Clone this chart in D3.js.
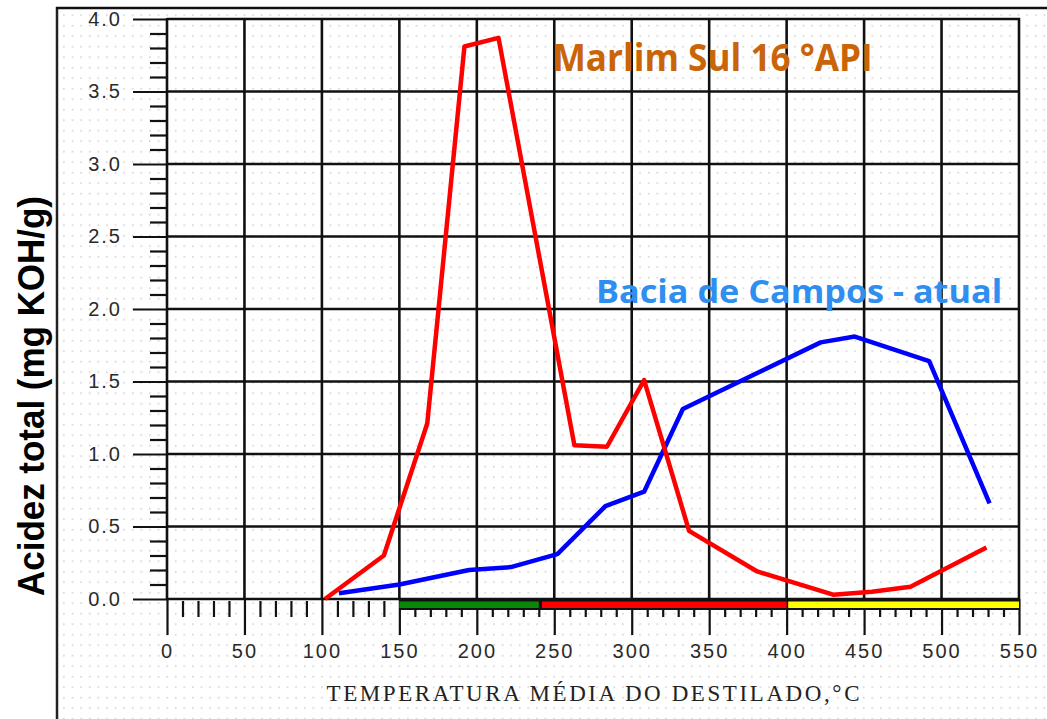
<!DOCTYPE html>
<html><head><meta charset="utf-8">
<script src="https://cdn.jsdelivr.net/npm/d3@7"></script>
<style>body{margin:0;background:#fff}svg{display:block}</style>
</head><body><svg id="c" width="1047" height="719"></svg>
<script>
// ---- data ----
const xMajorTicks = [0,50,100,150,200,250,300,350,400,450,500,550];
const yMajorTicks = [0,0.5,1.0,1.5,2.0,2.5,3.0,3.5,4.0];
const marlimX = [102,140,168,192,214,263,284,308,337,381,430,455,480,529];
const marlimY = [0,0.30,1.21,3.81,3.87,1.06,1.05,1.51,0.47,0.19,0.03,0.05,0.085,0.355];
const baciaX = [111,150,195,222,252,283,308,333,422,444,492,531];
const baciaY = [0.04,0.10,0.20,0.22,0.31,0.64,0.74,1.31,1.77,1.81,1.64,0.66];
const bandStart = [150,242,401];
const bandEnd = [240,400,550];
const bandColor = ["#0a880a","#ff0000","#ffff00"];
const labelMarlim = "Marlim Sul 16 °API";
const labelBacia = "Bacia de Campos - atual";
const xTitle = "TEMPERATURA MÉDIA DO DESTILADO,°C";
const yTitle = "Acidez total (mg KOH/g)";

// ---- chart ----
const svg = d3.select("#c");
const x = d3.scaleLinear().domain([0,550]).range([167,1019]);
const y = d3.scaleLinear().domain([0,4]).range([599,19]);

// dotted background
const defs = svg.append("defs");
const pat = defs.append("pattern").attr("id","dots").attr("patternUnits","userSpaceOnUse")
  .attr("width",8.6).attr("height",10.5);
pat.append("rect").attr("x",3).attr("y",4).attr("width",1.4).attr("height",1.4).attr("fill","#c4c4c4");
svg.append("rect").attr("x",57).attr("y",8).attr("width",990).attr("height",711).attr("fill","url(#dots)");

// frame
svg.append("line").attr("x1",57).attr("x2",57).attr("y1",7).attr("y2",719).attr("stroke","#222").attr("stroke-width",2.5);
svg.append("line").attr("x1",56).attr("x2",1047).attr("y1",8).attr("y2",8).attr("stroke","#111").attr("stroke-width",2.5);

// minor ticks
const xMinor = d3.range(0,551,10).filter(v => v % 50 !== 0);
const yMinor = d3.range(0,41,1).map(v => v/10).filter(v => Math.round(v*10) % 5 !== 0);

const gxm = svg.append("g").attr("transform","translate(0,601)")
  .call(d3.axisBottom(x).tickValues(xMinor).tickSize(16).tickFormat(""));
const gym = svg.append("g").attr("transform","translate(167,0)")
  .call(d3.axisLeft(y).tickValues(yMinor).tickSize(17).tickFormat(""));

// major axes
const gx = svg.append("g").attr("transform","translate(0,599)")
  .call(d3.axisBottom(x).tickValues(xMajorTicks).tickSize(36).tickPadding(9).tickFormat(d3.format("d")));
const gy = svg.append("g").attr("transform","translate(167,0)")
  .call(d3.axisLeft(y).tickValues(yMajorTicks).tickSize(34).tickPadding(11).tickFormat(d3.format(".1f")));

[gxm,gym,gx,gy].forEach(g => {
  g.select(".domain").remove();
  g.selectAll(".tick line").attr("stroke","#111").attr("stroke-width",2.2);
});
gx.attr("font-size",20);
gy.attr("font-size",20);
gx.selectAll("text").attr("font-family","Liberation Sans, Arial, sans-serif").attr("font-size",20)
  .attr("fill","#2a2a2a").attr("letter-spacing","2px");
gy.selectAll("text").attr("font-family","Liberation Sans, Arial, sans-serif").attr("font-size",20)
  .attr("fill","#2a2a2a").attr("letter-spacing","2px");

// color bands under axis
svg.append("rect").attr("x",x(150)).attr("y",599).attr("width",x(550)-x(150)).attr("height",11).attr("fill","#111");
svg.selectAll("rect.band").data(bandStart).join("rect").attr("class","band")
  .attr("x",(d)=>x(d)).attr("y",601.5)
  .attr("width",(d,i)=>x(bandEnd[i])-x(d)).attr("height",6.5)
  .attr("fill",(d,i)=>bandColor[i]);

// grid
svg.append("g").selectAll("line").data(xMajorTicks).join("line")
  .attr("x1",d=>x(d)).attr("x2",d=>x(d)).attr("y1",y(4)-1).attr("y2",y(0))
  .attr("stroke","#111").attr("stroke-width",2.6);
svg.append("g").selectAll("line").data(yMajorTicks).join("line")
  .attr("x1",x(0)).attr("x2",x(550)+1).attr("y1",d=>y(d)).attr("y2",d=>y(d))
  .attr("stroke","#111").attr("stroke-width",2.6);

// labels
svg.append("text").attr("x",x(249)).attr("y",y(3.64)).text(labelMarlim)
  .attr("font-family","Open Sans, Lato, sans-serif").attr("font-weight",700).attr("font-size",37)
  .attr("fill","#c96508").attr("textLength",320).attr("lengthAdjust","spacingAndGlyphs");
svg.append("text").attr("x",x(277)).attr("y",y(2.04)).text(labelBacia)
  .attr("font-family","Open Sans, Lato, sans-serif").attr("font-weight",700).attr("font-size",33)
  .attr("fill","#2f8ff0").attr("textLength",406).attr("lengthAdjust","spacingAndGlyphs");

// series
const line = d3.line().x(d=>x(d[0])).y(d=>y(d[1]));
svg.append("path").datum(baciaX.map((v,i)=>[v,baciaY[i]])).attr("d",line)
  .attr("fill","none").attr("stroke","#0000ff").attr("stroke-width",4.5).attr("stroke-linejoin","round");
svg.append("path").datum(marlimX.map((v,i)=>[v,marlimY[i]])).attr("d",line)
  .attr("fill","none").attr("stroke","#ff0000").attr("stroke-width",4.5).attr("stroke-linejoin","round");

// axis titles
svg.append("text").attr("x",593).attr("y",701).attr("text-anchor","middle").text(xTitle)
  .attr("font-family","Liberation Serif, Times New Roman, serif").attr("font-size",23)
  .attr("fill","#222").attr("textLength",533).attr("lengthAdjust","spacing");
svg.append("text").attr("transform","translate(44,396) rotate(-90)").attr("text-anchor","middle").text(yTitle)
  .attr("font-family","Liberation Sans, Arial, sans-serif").attr("font-weight",700).attr("font-size",36)
  .attr("fill","#000").attr("textLength",400).attr("lengthAdjust","spacingAndGlyphs");
</script></body></html>
